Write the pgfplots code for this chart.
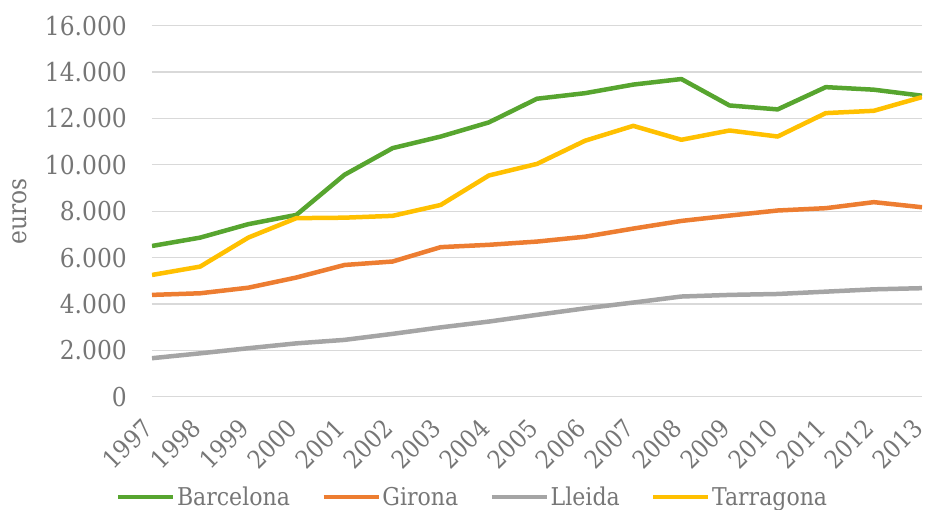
\documentclass[border=0pt]{standalone}
\usepackage{fontspec}
\setmainfont{DejaVu Serif Condensed}
\usepackage{pgfplots}
\pgfplotsset{compat=1.18}
\definecolor{cgreen}{HTML}{57A52F}
\definecolor{corange}{HTML}{ED7D31}
\definecolor{cgrey}{HTML}{A5A5A5}
\definecolor{cyellow}{HTML}{FFC000}
\definecolor{ctext}{HTML}{767676}
\definecolor{cgrid}{HTML}{D9D9D9}
\begin{document}
\begin{tikzpicture}
\begin{axis}[
  scale only axis,
  width=770pt, height=371pt,
  xmin=1997, xmax=2013,
  ymin=0, ymax=16000,
  xtick={1997,...,2013},
  ytick={0,2000,...,16000},
  scaled y ticks=false,
  axis line style={draw=none},
  major tick length=0pt,
  ymajorgrids,
  grid style={color=cgrid, line width=1.3pt},
  every tick label/.append style={font=\fontsize{26}{30}\selectfont, text=ctext},
  /pgf/number format/.cd, 1000 sep={.}, assume math mode=true, fixed,
  /pgfplots/.cd,
  x tick label style={/pgf/number format/1000 sep={}, font=\fontsize{25}{30}\selectfont, inner sep=0pt, xshift=-4pt, yshift=-27pt, rotate=45, anchor=east},
  y tick label style={inner sep=0pt, xshift=-25pt},
  ylabel={euros},
  ylabel style={font=\fontsize{26}{30}\selectfont, text=ctext, at={([xshift=-132pt]rel axis cs:0,0.5)}, anchor=center},
  legend style={at={(rel axis cs:0.416,-0.27)}, anchor=center, draw=none,
    font=\fontsize{24.5}{28}\selectfont, text=ctext,
    legend columns=4,
    /tikz/every even column/.append style={column sep=30pt},
    legend cell align=left,
    nodes={inner sep=1.5pt}},
  legend image code/.code={\draw[#1, line width=4.5pt] (0pt,0pt) -- (55pt,0pt);},
  every axis plot/.append style={line width=4.5pt, line join=round, mark=none},
]
\addplot[cgreen] coordinates {
(1997,6500) (1998,6860) (1999,7440) (2000,7840) (2001,9570) (2002,10720) (2003,11220)
(2004,11830) (2005,12850) (2006,13090) (2007,13460) (2008,13700) (2009,12560)
(2010,12390) (2011,13350) (2012,13240) (2013,12980)};
\addlegendentry{Barcelona}
\addplot[corange] coordinates {
(1997,4390) (1998,4460) (1999,4700) (2000,5140) (2001,5680) (2002,5830) (2003,6450)
(2004,6550) (2005,6690) (2006,6900) (2007,7250) (2008,7580) (2009,7810)
(2010,8030) (2011,8130) (2012,8390) (2013,8170)};
\addlegendentry{Girona}
\addplot[cgrey] coordinates {
(1997,1660) (1998,1870) (1999,2090) (2000,2300) (2001,2450) (2002,2710) (2003,2990)
(2004,3240) (2005,3530) (2006,3810) (2007,4060) (2008,4320) (2009,4390)
(2010,4430) (2011,4530) (2012,4630) (2013,4680)};
\addlegendentry{Lleida}
\addplot[cyellow] coordinates {
(1997,5250) (1998,5610) (1999,6860) (2000,7700) (2001,7720) (2002,7800) (2003,8270)
(2004,9540) (2005,10040) (2006,11040) (2007,11680) (2008,11080) (2009,11480)
(2010,11220) (2011,12230) (2012,12330) (2013,12920)};
\addlegendentry{Tarragona}
\coordinate (O) at (rel axis cs:0,0);
\coordinate (T) at (rel axis cs:1,1);
\end{axis}
\pgfresetboundingbox
\path ([xshift=-152pt,yshift=-113.3pt]O) rectangle ([xshift=7pt,yshift=25.7pt]T);
\end{tikzpicture}
\end{document}
